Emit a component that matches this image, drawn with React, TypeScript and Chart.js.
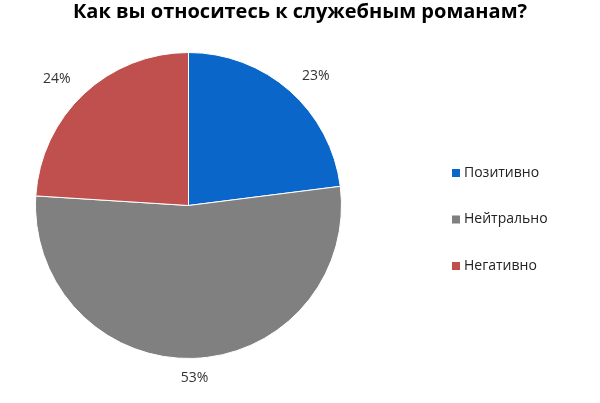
import React, { useEffect, useRef } from "react";
import { Chart, registerables } from "chart.js";

Chart.register(...registerables);

const TITLE = "Как вы относитесь к служебным романам?";
const categories = ["Позитивно", "Нейтрально", "Негативно"];
const values = [23, 53, 24];
const colors = ["#0A66C9", "#808080", "#C0504D"];

const FONT = "'Open Sans', 'DejaVu Sans', sans-serif";

const outsideLabels = {
  id: "outsideLabels",
  afterDatasetsDraw(chart: any) {
    const ctx = chart.ctx;
    const meta = chart.getDatasetMeta(0);
    const total = values.reduce((a, b) => a + b, 0);
    ctx.save();
    ctx.font = `14px ${FONT}`;
    ctx.fillStyle = "#333";
    ctx.textAlign = "center";
    ctx.textBaseline = "middle";
    meta.data.forEach((arc: any, i: number) => {
      const mid = (arc.startAngle + arc.endAngle) / 2;
      const r = arc.outerRadius + 20;
      const ax = arc.x + Math.cos(mid) * r;
      const ay = arc.y + Math.sin(mid) * r;
      const txt = Math.round((values[i] / total) * 100) + "%";
      const w = ctx.measureText(txt).width;
      ctx.fillText(txt, ax + Math.cos(mid) * w * 0.7, ay);
    });
    ctx.restore();
  },
};

const titleAndLegend = {
  id: "titleAndLegend",
  afterDraw(chart: any) {
    const ctx = chart.ctx;
    ctx.save();
    ctx.font = `bold 20px ${FONT}`;
    ctx.fillStyle = "#000";
    ctx.textAlign = "center";
    ctx.textBaseline = "middle";
    ctx.fillText(TITLE, chart.width / 2, 12);

    const x = 452;
    const y0 = 173;
    const step = 46.5;
    ctx.font = `14px ${FONT}`;
    ctx.textAlign = "left";
    categories.forEach((c, i) => {
      const y = y0 + i * step;
      ctx.fillStyle = colors[i];
      ctx.fillRect(x, y - 4, 8, 8);
      ctx.fillStyle = "#222";
      ctx.fillText(c, x + 12, y);
    });
    ctx.restore();
  },
};

export default function App() {
  const ref = useRef<HTMLCanvasElement | null>(null);
  useEffect(() => {
    if (!ref.current) return;
    const chart = new Chart(ref.current, {
      type: "pie",
      data: {
        labels: categories,
        datasets: [
          {
            data: values,
            backgroundColor: colors,
            borderColor: "#ffffff",
            borderWidth: 1,
          },
        ],
      },
      options: {
        responsive: false,
        animation: false,
        radius: 153,
        layout: { padding: { left: 0, right: 223, top: 26, bottom: 18 } },
        plugins: {
          legend: { display: false },
          tooltip: { enabled: false },
          title: { display: false },
        },
      } as any,
      plugins: [outsideLabels, titleAndLegend],
    });
    return () => chart.destroy();
  }, []);
  return (
    <div style={{ position: "absolute", left: 0, top: 0, width: 600, height: 403, background: "#fff" }}>
      <canvas ref={ref} width={600} height={403} />
    </div>
  );
}
